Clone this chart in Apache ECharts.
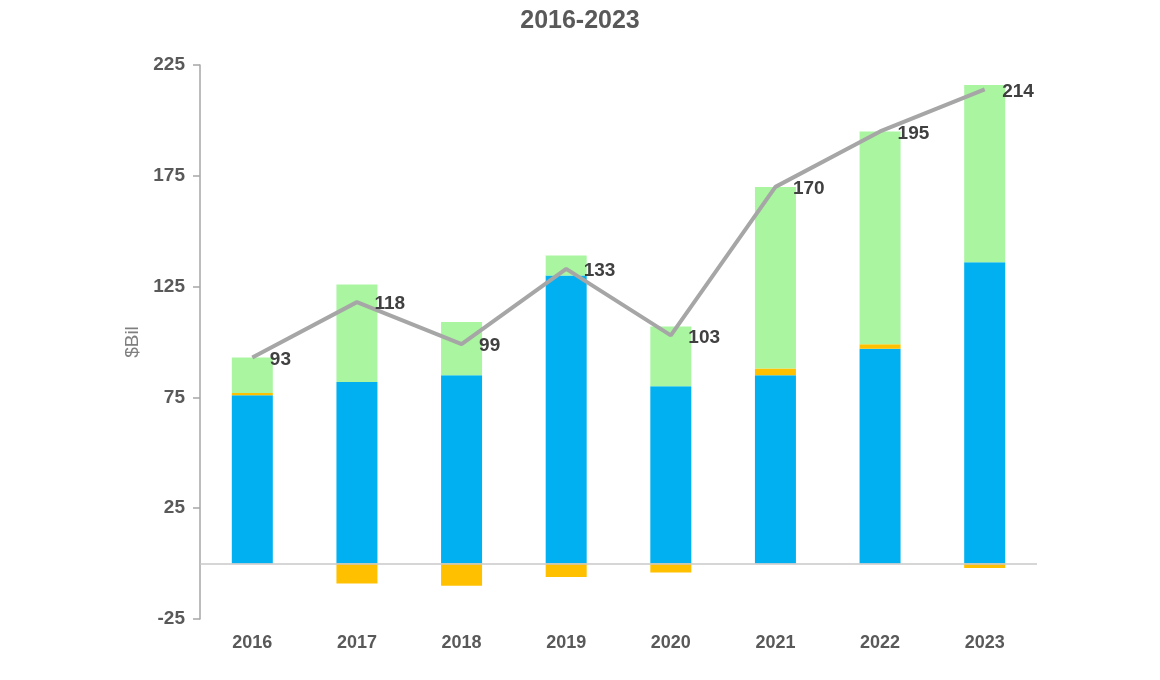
<!DOCTYPE html>
<html>
<head>
<meta charset="utf-8">
<script src="https://cdn.jsdelivr.net/npm/echarts@6/dist/echarts.min.js"></script>
<style>
  html, body { margin: 0; padding: 0; background: #fff; }
  #chart { width: 1160px; height: 680px; }
</style>
</head>
<body>
<div id="chart"></div>
<script>
// data
const years = ['2016', '2017', '2018', '2019', '2020', '2021', '2022', '2023'];
const blueValues = [76, 82, 85, 130, 80, 85, 97, 136];
const yellowValues = [1, -9, -10, -6, -4, 3, 2, -2];
const greenValues = [16, 44, 24, 9, 27, 82, 96, 80];
const totalValues = [93, 118, 99, 133, 103, 170, 195, 214];

const chart = echarts.init(document.getElementById('chart'));
const font = '"Liberation Sans", Arial, sans-serif';

const option = {
  backgroundColor: '#fff',
  animation: false,
  title: {
    text: '2016-2023',
    left: 'center',
    top: 4,
    textStyle: { fontFamily: font, fontSize: 25, fontWeight: 'bold', color: '#595959' }
  },
  grid: { left: 200, right: 123, top: 65, bottom: 61 },
  xAxis: {
    type: 'category',
    data: years,
    axisLine: { show: false },
    axisTick: { show: false },
    axisLabel: { margin: 15, fontFamily: font, fontSize: 18, fontWeight: 'bold', color: '#595959' }
  },
  yAxis: {
    type: 'value',
    min: -25,
    max: 225,
    interval: 50,
    name: '$Bil',
    nameLocation: 'middle',
    nameRotate: 90,
    nameGap: 57,
    nameTextStyle: { fontFamily: font, fontSize: 19, color: '#7f7f7f' },
    axisLine: { show: true, lineStyle: { color: '#a6a6a6', width: 1.5 } },
    axisTick: { show: true, length: 7, lineStyle: { color: '#a6a6a6', width: 1.5 } },
    splitLine: { show: false },
    axisLabel: { margin: 15, fontFamily: font, fontSize: 19, fontWeight: 'bold', color: '#595959' }
  },
  series: [
    {
      name: 'blue',
      type: 'bar',
      stack: 'a',
      barWidth: 41,
      data: blueValues,
      itemStyle: { color: '#00b0f0' },
      markLine: {
        silent: true,
        symbol: 'none',
        label: { show: false },
        lineStyle: { color: '#c8c8c8', type: 'solid', width: 1.5 },
        data: [{ yAxis: 0 }]
      }
    },
    {
      name: 'yellow',
      type: 'bar',
      stack: 'a',
      data: yellowValues,
      itemStyle: { color: '#ffc000' }
    },
    {
      name: 'green',
      type: 'bar',
      stack: 'a',
      data: greenValues,
      itemStyle: { color: '#a9f5a0' }
    },
    {
      name: 'total',
      type: 'line',
      data: totalValues,
      symbol: 'circle',
      symbolSize: 1,
      showSymbol: true,
      itemStyle: { color: 'rgba(0,0,0,0)' },
      lineStyle: { color: '#a6a6a6', width: 4 },
      label: {
        show: true,
        position: 'right',
        distance: 17,
        offset: [0, 2],
        fontFamily: font,
        fontSize: 19,
        fontWeight: 'bold',
        color: '#404040'
      },
      z: 5
    }
  ]
};

chart.setOption(option);
</script>
</body>
</html>
